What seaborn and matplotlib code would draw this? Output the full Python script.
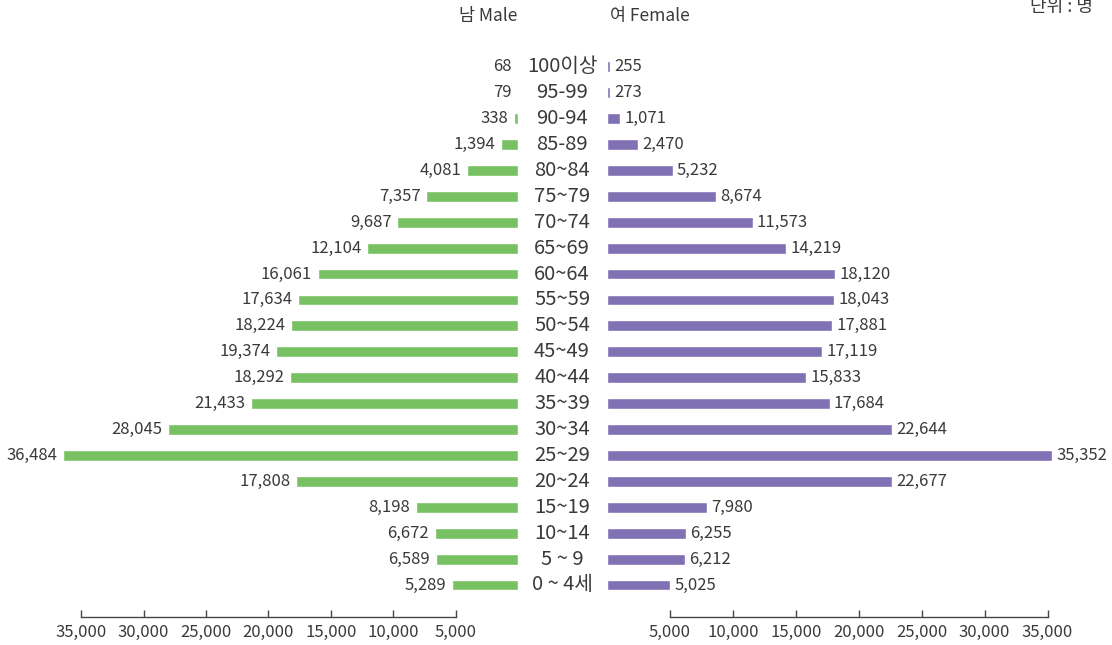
import pandas as pd
import matplotlib
matplotlib.use('Agg')
import matplotlib.pyplot as plt
import matplotlib.transforms as mtrans
import seaborn as sns

# Age groups, top to bottom
ages = ['100이상', '95-99', '90-94', '85-89', '80~84', '75~79', '70~74',
        '65~69', '60~64', '55~59', '50~54', '45~49', '40~44', '35~39',
        '30~34', '25~29', '20~24', '15~19', '10~14', '5 ~ 9', '0 ~ 4세']
male = [68, 79, 338, 1394, 4081, 7357, 9687, 12104, 16061, 17634, 18224,
        19374, 18292, 21433, 28045, 36484, 17808, 8198, 6672, 6589, 5289]
female = [255, 273, 1071, 2470, 5232, 8674, 11573, 14219, 18120, 18043, 17881,
          17119, 15833, 17684, 22644, 35352, 22677, 7980, 6255, 6212, 5025]
ticks = [5000, 10000, 15000, 20000, 25000, 30000, 35000]

df = pd.DataFrame({'age': ages, 'male': male, 'female': female})

sns.set_theme(style='white')
plt.rcParams['font.family'] = ['Noto Sans CJK KR', 'DejaVu Sans']

GREEN = '#78c163'
PURPLE = '#8070b4'
TXT = '#3a3a3a'

W, H = 1112, 645
fig = plt.figure(figsize=(W / 100, H / 100), dpi=100)

# axes placed in pixel terms
ax_l = fig.add_axes([50 / W, 1 - 617 / H, 468 / W, (617 - 46) / H])
ax_r = fig.add_axes([607 / W, 1 - 617 / H, 472 / W, (617 - 46) / H])

sns.barplot(data=df, y='age', x='male', order=ages, color=GREEN,
            width=0.42, saturation=1, ax=ax_l)
sns.barplot(data=df, y='age', x='female', order=ages, color=PURPLE,
            width=0.42, saturation=1, ax=ax_r)

ax_l.set_xlim(37500, 0)
ax_r.set_xlim(0, 37500)

for ax in (ax_l, ax_r):
    ax.set_ylim(21.235, -0.8)
    ax.set_ylabel('')
    ax.set_xlabel('')
    ax.set_yticks([])
    for s in ('top', 'left', 'right'):
        ax.spines[s].set_visible(False)
    ax.spines['bottom'].set_color('#444444')
    ax.spines['bottom'].set_linewidth(1.0)
    ax.spines['bottom'].set_bounds(5000, 35000)
    ax.set_xticks(ticks)
    ax.set_xticklabels([f'{t:,}' for t in ticks])
    ax.tick_params(axis='x', direction='in', length=5, width=1,
                   color='#444444', labelcolor=TXT, labelsize=12, pad=5,
                   bottom=True)
    ax.patch.set_alpha(0)

# value labels
for i, (m, f) in enumerate(zip(male, female)):
    ax_l.annotate(f'{m:,}', xy=(m, i), xytext=(-4, 0), textcoords='offset points',
                  ha='right', va='center', fontsize=12, color=TXT)
    ax_r.annotate(f'{f:,}', xy=(f, i), xytext=(3, 0), textcoords='offset points',
                  ha='left', va='center', fontsize=12, color=TXT)

# age labels in the middle
tr = mtrans.blended_transform_factory(fig.transFigure, ax_l.transData)
for i, a in enumerate(ages):
    ax_l.text(562 / W, i, a, transform=tr, ha='center', va='center',
              fontsize=14.5, color=TXT, clip_on=False)

# headers
fig.text(488 / W, 1 - 16 / H, '남 Male', ha='center', va='center',
         fontsize=12.5, color=TXT)
fig.text(650 / W, 1 - 16 / H, '여 Female', ha='center', va='center',
         fontsize=12.5, color=TXT)
fig.text(1030 / W, 1 - 7 / H, '단위 : 명', ha='left', va='center',
         fontsize=13, color=TXT)

fig.savefig('out.png', dpi=100)
